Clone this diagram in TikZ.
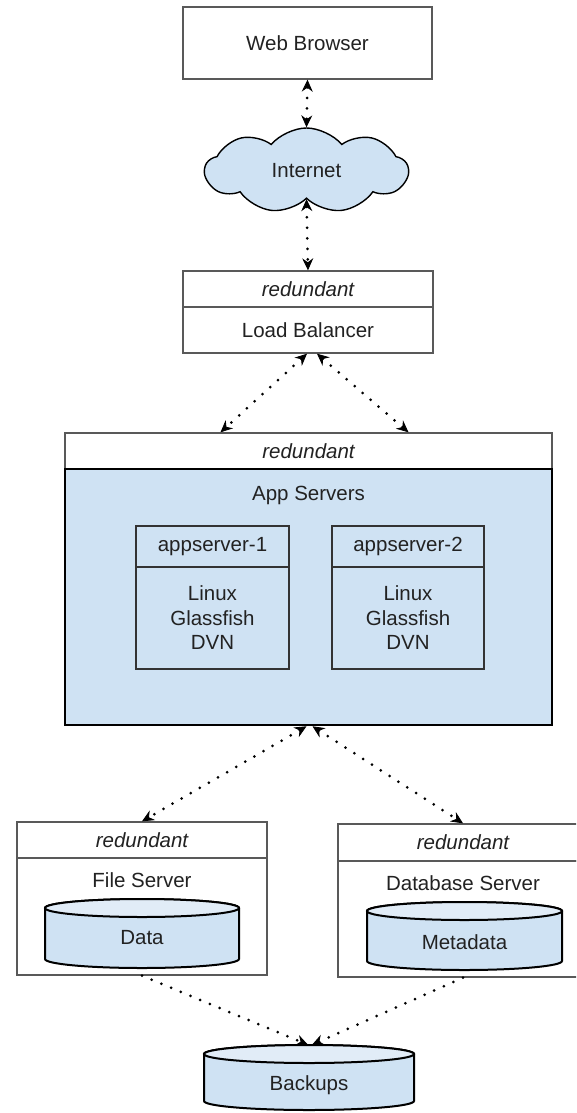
\documentclass[tikz,border=0pt]{standalone}
\usepackage{fontspec}
\setmainfont{Liberation Sans}
\usetikzlibrary{arrows.meta,shapes.symbols}
\definecolor{pale}{HTML}{CFE2F3}
\definecolor{paletop}{HTML}{E1ECF7}
\definecolor{framegray}{HTML}{595959}
\definecolor{innergray}{HTML}{333333}
\definecolor{ink}{HTML}{222222}
\tikzset{
  fbox/.style={draw=framegray, line width=1.4pt, fill=white, inner sep=0pt, text=ink},
  hdrbox/.style={fbox, font=\itshape},
  appbody/.style={draw=black, line width=2.6pt, fill=pale, inner sep=0pt},
  asbox/.style={draw=innergray, line width=1.5pt, fill=pale, inner sep=0pt, text=ink, align=center},
  txt/.style={inner sep=0pt, text=ink, align=center},
  drum/.style={draw=black, line width=2pt, fill=pale},
  drumtop/.style={draw=black, line width=2pt, fill=paletop},
  tipshape/.tip={Stealth[length=12pt,width=11pt,inset=4pt,line width=0.8pt]},
  conn/.style={black, line width=3pt, dash pattern=on 0pt off 10.5pt, line cap=round},
  both/.style={conn, tipshape-tipshape},
  single/.style={conn, -tipshape}
}
\newcommand\drumshape[4]{%
  \filldraw[drum] (#1-#4,#2+9) -- (#1-#4,#3-9)
    arc[start angle=180,end angle=360,x radius=#4pt,y radius=9pt]
    -- (#1+#4,#2+9)
    arc[start angle=0,end angle=180,x radius=#4pt,y radius=9pt] -- cycle;
  \filldraw[drumtop] (#1,#2+9) ellipse[x radius=#4pt,y radius=9pt];
}
\begin{document}
\fontsize{20.5}{24.5}\selectfont
\begin{tikzpicture}[x=1pt,y=-1pt]
\clip (0,0) rectangle (576,1113);
\fill[white] (0,0) rectangle (576,1113);

% Web browser
\node[fbox, minimum width=249pt, minimum height=72pt] (browser) at (307.5,43) {Web Browser};

% Internet cloud
\node[cloud, cloud puffs=9, cloud puff arc=100, aspect=2.39, draw=black, line width=1.4pt,
      fill=pale, minimum width=203pt, minimum height=85pt, inner sep=0pt, text=ink]
      (internet) at (306.5,170.5) {Internet};

% Load balancer
\node[hdrbox, minimum width=250pt, minimum height=36pt] (lbhdr) at (308,289) {redundant};
\node[fbox, minimum width=250pt, minimum height=46pt] (lb) at (308,330) {Load Balancer};

% App servers
\node[hdrbox, minimum width=487pt, minimum height=36pt] (apphdr) at (308.5,451) {redundant};
\node[appbody, minimum width=487pt, minimum height=256pt] (app) at (308.5,597) {};
\node[txt] (applabel) at (308.5,495) {App Servers};

\node[asbox, minimum width=153pt, minimum height=41pt] (as1hdr) at (212.5,546.5) {appserver-1};
\node[asbox, minimum width=153pt, minimum height=102pt] (as1) at (212.5,618) {Linux\\Glassfish\\DVN};
\node[asbox, minimum width=152pt, minimum height=41pt] (as2hdr) at (408,546.5) {appserver-2};
\node[asbox, minimum width=152pt, minimum height=102pt] (as2) at (408,618) {Linux\\Glassfish\\DVN};

% File server
\node[hdrbox, minimum width=250pt, minimum height=36pt] (fshdr) at (142,840) {redundant};
\node[fbox, minimum width=250pt, minimum height=117pt] (fs) at (142,916.5) {};
\node[txt] (fslabel) at (142,880) {File Server};
\drumshape{142}{899}{968}{97}
\node[txt] (data) at (142,938) {Data};

% Database server
\node[hdrbox, minimum width=250pt, minimum height=37pt] (dbhdr) at (463,842.5) {redundant};
\node[fbox, minimum width=250pt, minimum height=116pt] (db) at (463,919) {};
\node[txt] (dblabel) at (463,883) {Database Server};
\drumshape{464.5}{902}{970}{97.5}
\node[txt] (metadata) at (464.5,942) {Metadata};

% Backups
\drumshape{309}{1045}{1110}{105}
\node[inner sep=0pt, minimum width=210pt, minimum height=65pt] (backups) at (309,1077.5) {};
\node[txt] (backupslabel) at (309,1085) {Backups};

% Connectors
\draw[both] (browser.south) -- (internet.north);
\draw[both] (internet.south) -- (lbhdr.north);
\draw[both] ([xshift=-1pt]lb.south) -- ([xshift=-88pt]apphdr.north);
\draw[both] ([xshift=9pt]lb.south) -- ([xshift=100pt]apphdr.north);
\draw[both] ([xshift=-2pt]app.south) -- (fshdr.north);
\draw[both] ([xshift=4pt]app.south) -- (dbhdr.north);
\draw[single] (fs.south) -- ([xshift=-1pt]backups.north);
\draw[single] (db.south) -- ([xshift=3pt]backups.north);
\end{tikzpicture}
\end{document}
